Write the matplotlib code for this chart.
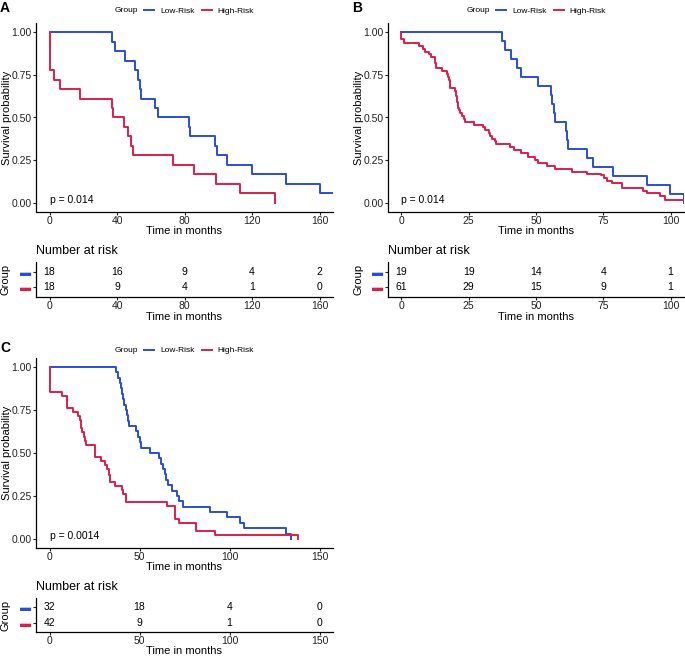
import matplotlib.pyplot as plt

plt.rcParams['font.family'] = ['Liberation Sans', 'DejaVu Sans']

BLUE = '#2B4CD6'
RED = '#DC1F4A'

# ---- panel A ----
a_low_t = [0, 37.3, 38.7, 44.6, 50.5, 52.7, 53.5, 54.4, 62.7, 64.3,
           82.9, 83.5, 98.1, 99.1, 105.0, 119.9, 140.0, 160.2, 170]
a_low_s = [1.0, 0.944, 0.889, 0.833, 0.778, 0.722, 0.667, 0.611, 0.556, 0.5,
           0.444, 0.389, 0.333, 0.278, 0.222, 0.167, 0.111, 0.056, 0.056]
a_high_t = [0, 0, 2.4, 6.3, 18.3, 37.0, 37.9, 44.0, 46.6, 48.2,
            49.5, 73.1, 85.5, 98.7, 112.8, 133.7]
a_high_s = [1.0, 0.778, 0.722, 0.667, 0.611, 0.556, 0.5, 0.444, 0.389, 0.333,
            0.278, 0.222, 0.167, 0.111, 0.056, 0.0]
a_breaks = [0, 40, 80, 120, 160]
a_risk_low = [18, 16, 9, 4, 2]
a_risk_high = [18, 9, 4, 1, 0]

# ---- panel B ----
b_low_t = [0, 37.2, 38.4, 40.6, 43.0, 44.5, 50.9, 55.6, 56.0, 56.6,
           57.2, 61.0, 61.4, 61.8, 69.0, 71.3, 78.6, 91.1, 99.8, 105.0]
b_low_s = [1.0, 0.947, 0.895, 0.842, 0.789, 0.737, 0.684, 0.632, 0.579, 0.526,
           0.474, 0.421, 0.368, 0.316, 0.263, 0.211, 0.158, 0.105, 0.053, 0.0]
b_high_t = [0, 0, 0.9, 6.7, 7.9, 8.9, 10.2, 11.0, 12.3, 12.9,
            15.1, 17.0, 17.3, 17.6, 17.9, 18.0, 18.2, 19.8, 20.1, 20.3,
            20.5, 20.8, 21.0, 21.1, 21.5, 21.9, 22.6, 23.4, 23.6, 26.9,
            30.2, 31.2, 32.5, 33.0, 33.5, 34.7, 35.2, 40.5, 42.0, 44.5,
            47.0, 49.6, 50.7, 54.2, 56.9, 63.5, 68.8, 74.3, 75.3, 76.2,
            78.3, 82.0, 89.8, 91.3, 96.0, 98.1, 105.0]
b_high_s = [1.0, 0.959, 0.934, 0.918, 0.902, 0.885, 0.869, 0.852, 0.82, 0.787,
            0.77, 0.754, 0.738, 0.721, 0.705, 0.689, 0.672, 0.656, 0.639, 0.623,
            0.607, 0.59, 0.574, 0.557, 0.541, 0.525, 0.508, 0.492, 0.475, 0.459,
            0.443, 0.426, 0.41, 0.393, 0.377, 0.361, 0.344, 0.328, 0.311, 0.29,
            0.267, 0.251, 0.236, 0.216, 0.197, 0.183, 0.17, 0.161, 0.148, 0.131,
            0.115, 0.086, 0.072, 0.057, 0.041, 0.016, 0.016]
b_breaks = [0, 25, 50, 75, 100]
b_risk_low = [19, 19, 14, 4, 1]
b_risk_high = [61, 29, 15, 9, 1]

# ---- panel C ----
c_low_t = [0, 36.7, 37.8, 38.9, 39.6, 40.2, 40.8, 41.5, 42.6, 43.2,
           43.6, 43.9, 48.1, 49.0, 50.0, 51.1, 56.1, 61.1, 62.0, 63.3,
           64.1, 64.6, 65.9, 68.0, 70.7, 72.2, 73.9, 89.3, 98.5, 105.9,
           107.8, 131.5, 134.0]
c_low_s = [1.0, 0.969, 0.938, 0.906, 0.875, 0.844, 0.812, 0.781, 0.75, 0.719,
           0.688, 0.656, 0.625, 0.594, 0.562, 0.531, 0.5, 0.469, 0.438, 0.406,
           0.375, 0.344, 0.312, 0.281, 0.25, 0.219, 0.188, 0.156, 0.125, 0.094,
           0.062, 0.031, 0.0]
c_high_t = [0, 0, 7.2, 9.6, 12.8, 15.6, 16.7, 17.6, 18.3, 19.3,
            19.8, 20.4, 25.0, 28.7, 30.9, 31.9, 32.8, 33.7, 36.5, 40.2,
            40.6, 42.6, 65.2, 69.8, 72.2, 81.5, 91.7, 138.0]
c_high_s = [1.0, 0.857, 0.833, 0.762, 0.738, 0.714, 0.69, 0.643, 0.619, 0.595,
            0.571, 0.548, 0.476, 0.452, 0.429, 0.405, 0.369, 0.333, 0.31, 0.286,
            0.262, 0.214, 0.19, 0.119, 0.095, 0.048, 0.024, 0.0]
c_breaks = [0, 50, 100, 150]
c_risk_low = [32, 18, 4, 0]
c_risk_high = [42, 9, 1, 0]

W, H = 685, 656
fig = plt.figure(figsize=(W / 100, H / 100), dpi=100)


def px_axes(x0, y0, x1, y1):
    # pixel box (top-left origin) -> figure axes
    return fig.add_axes([x0 / W, 1 - y1 / H, (x1 - x0) / W, (y1 - y0) / H])


def style(ax):
    for s in ['top', 'right']:
        ax.spines[s].set_visible(False)
    for s in ['left', 'bottom']:
        ax.spines[s].set_linewidth(0.9)
    ax.tick_params(length=2.2, width=0.8, labelsize=7.5, pad=1, colors='#222222')


def panel(letter, x0, x1, y_top, y_bot, t_top, t_bot, letter_y, legend_y,
          lt, ls, ht, hs, breaks, rlow, rhigh, pval):
    lo, hi = breaks[0], breaks[-1]
    pad = 0.05 * (hi - lo)
    w = x1 - x0
    ax = px_axes(x0, y_top, x1, y_bot)
    ax.plot(lt, ls, drawstyle='steps-post', color=BLUE, lw=1.4, label='Low-Risk')
    ax.plot(ht, hs, drawstyle='steps-post', color=RED, lw=1.4, label='High-Risk')
    ax.set_xlim(lo - pad, hi + pad)
    ax.set_ylim(-0.05, 1.05)
    ax.set_xticks(breaks)
    ax.set_yticks([0, 0.25, 0.5, 0.75, 1.0])
    ax.set_yticklabels(['0.00', '0.25', '0.50', '0.75', '1.00'])
    ax.set_xlabel('Time in months', fontsize=8)
    ax.set_ylabel('Survival probability', fontsize=8)
    ax.xaxis.set_label_coords(0.5, -14.5 / (y_bot - y_top))
    ax.yaxis.set_label_coords(-24 / w, 0.5)
    style(ax)
    ax.text(0, 0.02, pval, fontsize=7.5, ha='left', va='center')

    ly = 1.0 + (y_top - legend_y) / (y_bot - y_top)
    ax.text(102 / w, ly, 'Group', transform=ax.transAxes,
            fontsize=6, ha='right', va='center')
    ax.legend(loc='center', bbox_to_anchor=(163 / w, ly),
              ncol=2, frameon=False, fontsize=6, handlelength=1.2,
              handletextpad=0.7, columnspacing=0.85, borderpad=0, borderaxespad=0)

    fig.text((x0 - 36) / W, 1 - letter_y / H, letter, fontsize=10,
             fontweight='bold', ha='left', va='center')

    tb = px_axes(x0, t_top, x1, t_bot)
    tb.set_xlim(lo - pad, hi + pad)
    tb.set_ylim(0.4, 2.6)
    tb.set_xticks(breaks)
    tb.set_yticks([2, 1])
    tb.set_yticklabels(['\u25ac', '\u25ac'])
    style(tb)
    for lab, c in zip(tb.get_yticklabels(), [BLUE, RED]):
        lab.set_color(c)
        lab.set_fontsize(8)
    for x, n1, n2 in zip(breaks, rlow, rhigh):
        tb.text(x, 2, str(n1), ha='center', va='center', fontsize=7.5)
        tb.text(x, 1, str(n2), ha='center', va='center', fontsize=7.5)
    tb.set_xlabel('Time in months', fontsize=8)
    tb.set_ylabel('Group', fontsize=8)
    tb.xaxis.set_label_coords(0.5, -14.5 / (t_bot - t_top))
    tb.yaxis.set_label_coords(-25 / w, 0.5)
    tb.text(0, 1.0 + 11 / (t_bot - t_top), 'Number at risk', transform=tb.transAxes,
            fontsize=9, ha='left', va='center')


panel('A', 36, 333, 23.5, 211.5, 262, 297, 8, 11,
      a_low_t, a_low_s, a_high_t, a_high_s, a_breaks, a_risk_low, a_risk_high, 'p = 0.014')
panel('B', 388, 684, 23.5, 211.5, 262, 297, 8, 11,
      b_low_t, b_low_s, b_high_t, b_high_s, b_breaks, b_risk_low, b_risk_high, 'p = 0.014')
panel('C', 36, 333, 358.3, 547.6, 598, 632, 347.7, 350.5,
      c_low_t, c_low_s, c_high_t, c_high_s, c_breaks, c_risk_low, c_risk_high, 'p = 0.0014')

fig.savefig('out.png', dpi=100)
